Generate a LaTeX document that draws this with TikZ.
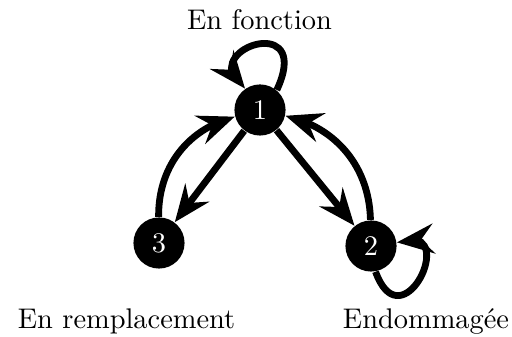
\documentclass[tikz,border=0pt]{standalone}
\usepackage{fontspec}
\usetikzlibrary{arrows.meta,bending}
\begin{document}
\begin{tikzpicture}[x=0.352pt,y=0.352pt,
  state/.style={circle,fill=black,text=white,minimum size=18pt,inner sep=0pt},
  lab/.style={anchor=base,inner sep=0pt},
  arc/.style={line width=2.4pt,-{Stealth[length=13pt,width=10.5pt,inset=4.5pt,flex]}}]
\useasboundingbox (0,0) rectangle (512,337);
\node[state] (n1) at (260,227) {1};
\node[state] (n3) at (159,94) {3};
\node[state] (n2) at (371,91) {2};
\node[lab] (l1) at (259.5,307.7) {En fonction};
\node[lab] (l3) at (126.5,8) {En remplacement};
\node[lab] (l2) at (426,8) {Endommagée};
\draw[arc] (n1) -- (n3);
\draw[arc] (n1) -- (n2);
\draw[arc] (n3) to[bend left=38] (n1);
\draw[arc] (n2) to[bend right=38] (n1);
\draw[arc] (n1.50) .. controls +(65:90) and +(145:65) .. (n1.125);
\draw[arc] (n2.-80) .. controls +(-70:80) and +(20:70) .. (n2.8);
\end{tikzpicture}
\end{document}
